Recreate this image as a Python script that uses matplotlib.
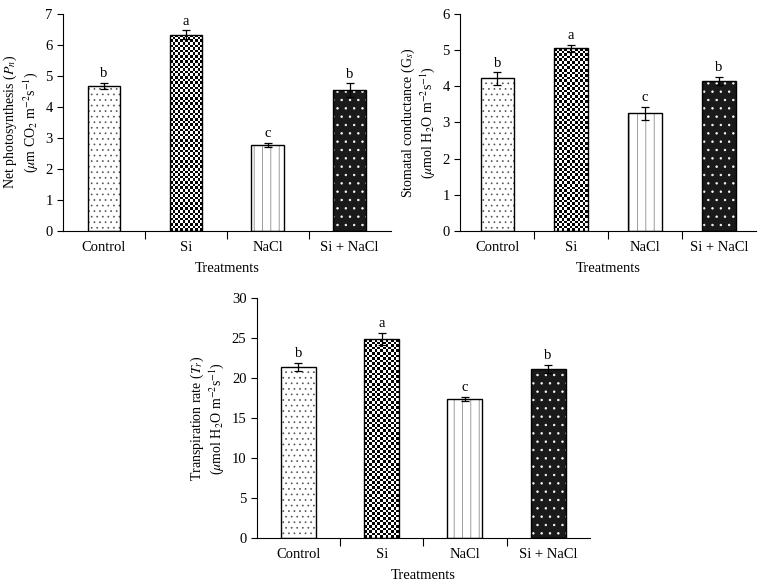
import numpy as np
import matplotlib
matplotlib.use('Agg')
import matplotlib.pyplot as plt

plt.rcParams['font.family'] = ['Liberation Serif', 'DejaVu Serif']
plt.rcParams['mathtext.fontset'] = 'stix'
plt.rcParams['hatch.linewidth'] = 0.5

treatments = ['Control', 'Si', 'NaCl', 'Si + NaCl']
letters = ['b', 'a', 'c', 'b']

pn_mean = [4.68, 6.33, 2.78, 4.55]
pn_err = [0.10, 0.15, 0.07, 0.22]

gs_mean = [4.22, 5.05, 3.25, 4.15]
gs_err = [0.17, 0.10, 0.18, 0.12]

tr_mean = [21.4, 24.9, 17.4, 21.2]
tr_err = [0.5, 0.8, 0.2, 0.5]


def checker(ax, patch, cell_px=2.6):
    # fill a bar patch with a fine black/white checkerboard
    fig = ax.figure
    fig.canvas.draw()
    x0, y0 = patch.get_x(), patch.get_y()
    x1, y1 = x0 + patch.get_width(), y0 + patch.get_height()
    p0 = ax.transData.transform((x0, y0))
    p1 = ax.transData.transform((x1, y1))
    nx = max(1, int(round(abs(p1[0] - p0[0]) / cell_px)))
    ny = max(1, int(round(abs(p1[1] - p0[1]) / cell_px)))
    grid = (np.add.outer(np.arange(ny), np.arange(nx)) % 2).astype(float)
    im = ax.imshow(grid, cmap='gray', vmin=0, vmax=1, extent=(x0, x1, y0, y1),
                   interpolation='nearest', aspect='auto', zorder=1.5)
    im.set_clip_path(patch)


def panel(ax, mean, err, ymax, ystep, ylabel, width):
    x = np.arange(len(treatments))
    ax.set_xlim(-0.5, len(x) - 0.5)
    ax.set_ylim(0, ymax)
    # Control: fine dots
    ax.bar(x[0], mean[0], width, color='white', edgecolor='#555555', hatch='...', lw=0)
    # Si: checkerboard
    si = ax.bar(x[1], mean[1], width, color='white', lw=0)
    # NaCl: vertical lines
    ax.bar(x[2], mean[2], width, color='white', edgecolor='#777777', hatch='||', lw=0)
    # Si + NaCl: black with white dots
    ax.bar(x[3], mean[3], width, color='#1a1a1a', edgecolor='white', hatch='..', lw=0)
    # outlines
    ax.bar(x, mean, width, fill=False, edgecolor='black', lw=1.0, zorder=2)
    ax.errorbar(x, mean, yerr=err, fmt='none', ecolor='black', elinewidth=0.9,
                capsize=3, capthick=0.9, zorder=3)
    for i in range(len(x)):
        ax.text(x[i], mean[i] + err[i] + ymax * 0.012, letters[i], ha='center',
                va='bottom', fontsize=10.5)
    ax.set_yticks(np.arange(0, ymax + 0.01, ystep))
    ax.set_xticks([0.5, 1.5, 2.5])
    ax.set_xticklabels([])
    ax.set_xticks(x, minor=True)
    ax.set_xticklabels(treatments, minor=True, fontsize=10.5)
    ax.tick_params(axis='x', which='minor', length=0, pad=7)
    ax.tick_params(axis='x', which='major', length=6, width=0.8, direction='out')
    ax.tick_params(axis='y', length=4, width=0.8, labelsize=10.5)
    ax.spines['top'].set_visible(False)
    ax.spines['right'].set_visible(False)
    ax.spines['left'].set_linewidth(0.8)
    ax.spines['bottom'].set_linewidth(0.8)
    ax.set_xlabel('Treatments', fontsize=10.5, labelpad=6)
    ax.set_ylabel(ylabel, fontsize=10, linespacing=1.1)
    checker(ax, si.patches[0])


fig = plt.figure(figsize=(7.62, 5.86), dpi=100)

ax1 = fig.add_axes([0.0827, 0.606, 0.430, 0.370])
panel(ax1, pn_mean, pn_err, 7, 1,
      'Net photosynthesis ($P_n$)\n($\\mu$m CO$_2$ m$^{-2}$s$^{-1}$)', 0.40)

ax2 = fig.add_axes([0.604, 0.606, 0.388, 0.370])
panel(ax2, gs_mean, gs_err, 6, 1,
      'Stomatal conductance (G$_s$)\n($\\mu$mol H$_2$O m$^{-2}$s$^{-1}$)', 0.45)

ax3 = fig.add_axes([0.337, 0.082, 0.437, 0.409])
panel(ax3, tr_mean, tr_err, 30, 5,
      'Transpiration rate ($T_r$)\n($\\mu$mol H$_2$O m$^{-2}$s$^{-1}$)', 0.42)

plt.savefig('out.png', dpi=100)
